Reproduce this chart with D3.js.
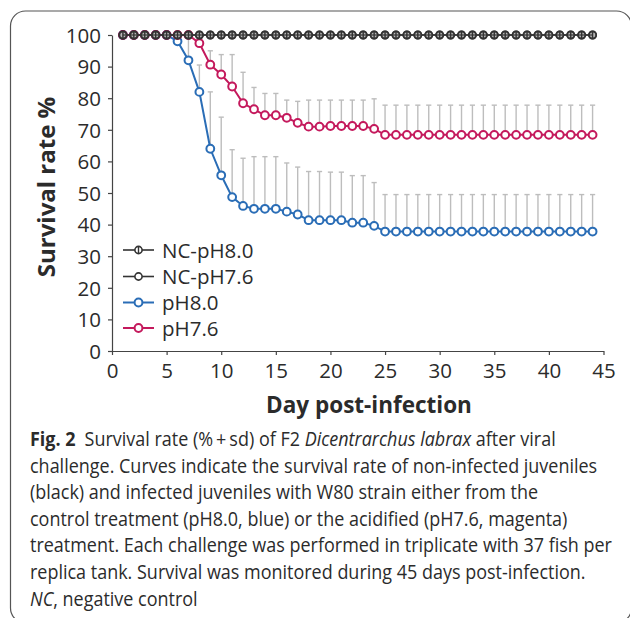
<!DOCTYPE html>
<html>
<head>
<meta charset="utf-8">
<script src="https://cdn.jsdelivr.net/npm/d3@7"></script>
<style>
  html, body { margin: 0; padding: 0; background: #fff; }
  svg { display: block; }
  text { font-family: "Open Sans", "DejaVu Sans", sans-serif; fill: #2b2b2b; }
</style>
</head>
<body>
<svg id="chart" width="630" height="618"></svg>
<script>
// ---------------- DATA ----------------
const days = [1,2,3,4,5,6,7,8,9,10,11,12,13,14,15,16,17,18,19,20,21,22,
              23,24,25,26,27,28,29,30,31,32,33,34,35,36,37,38,39,40,41,42,43,44];

const ncPH80 = [100,100,100,100,100,100,100,100,100,100,100,100,100,100,100,100,100,100,100,100,100,100,
                100,100,100,100,100,100,100,100,100,100,100,100,100,100,100,100,100,100,100,100,100,100];
const ncPH76 = [100,100,100,100,100,100,100,100,100,100,100,100,100,100,100,100,100,100,100,100,100,100,
                100,100,100,100,100,100,100,100,100,100,100,100,100,100,100,100,100,100,100,100,100,100];

const pH80 = [100,100,100,100,100,98,92,82,64,55.6,48.7,45.9,45,45,45,44.1,43.2,41.4,41.4,41.4,41.4,40.6,
              40.6,39.6,37.8,37.8,37.8,37.8,37.8,37.8,37.8,37.8,37.8,37.8,37.8,37.8,37.8,37.8,37.8,37.8,37.8,37.8,37.8,37.8];
// mean + sd (upper end of the error bar)
const pH80Upper = [100,100,100,100,100,100,100,90.5,82,74,63.7,61,61.5,61.5,61.5,59.5,58.2,56.8,56.8,56.6,56.6,55.5,
                   55.5,53.3,49.5,49.5,49.5,49.5,49.5,49.5,49.5,49.5,49.5,49.5,49.5,49.5,49.5,49.5,49.5,49.5,49.5,49.5,49.5,49.5];

const pH76 = [100,100,100,100,100,100,100,97.4,90.6,87.5,83.7,78.4,76.5,74.6,74.6,73.8,72.2,71,71,71.2,71.2,71.2,
              71.2,70.3,68.4,68.4,68.4,68.4,68.4,68.4,68.4,68.4,68.4,68.4,68.4,68.4,68.4,68.4,68.4,68.4,68.4,68.4,68.4,68.4];
const pH76Upper = [100,100,100,100,100,100,100,100,95,93.8,93.8,88.2,83.4,81.5,81.5,79.4,79,79.4,79.4,79.4,79.4,79.4,
                   79.4,79.8,77.8,77.8,77.8,77.8,77.8,77.8,77.8,77.8,77.8,77.8,77.8,77.8,77.8,77.8,77.8,77.8,77.8,77.8,77.8,77.8];

const xTicks = [0,5,10,15,20,25,30,35,40,45];
const yTicks = [0,10,20,30,40,50,60,70,80,90,100];

const seriesNames = ["NC-pH8.0","NC-pH7.6","pH8.0","pH7.6"];

const xTitle = "Day post-infection";
const yTitle = "Survival rate %";

const captionLines = [
  [{t:"Fig. 2", w:"bold"}, {t:"\u2002Survival rate (%\u2009+\u2009sd) of F2 "}, {t:"Dicentrarchus labrax", s:"italic"}, {t:" after viral"}],
  [{t:"challenge. Curves indicate the survival rate of non-infected juveniles"}],
  [{t:"(black) and infected juveniles with W80 strain either from the"}],
  [{t:"control treatment (pH8.0, blue) or the acidified (pH7.6, magenta)"}],
  [{t:"treatment. Each challenge was performed in triplicate with 37 fish per"}],
  [{t:"replica tank. Survival was monitored during 45 days post-infection."}],
  [{t:"NC", s:"italic"}, {t:", negative control"}]
];

// ---------------- LAYOUT ----------------
const svg = d3.select("#chart");
const BLUE = "#2a6db6", MAGENTA = "#c4195c", DARK = "#333", GREY = "#bdbdbd";

// frame
svg.append("rect")
  .attr("x", 10.5).attr("y", 11).attr("width", 621).attr("height", 612)
  .attr("rx", 15).attr("fill", "none").attr("stroke", "#555").attr("stroke-width", 1.2);

const x = d3.scaleLinear().domain([0,45]).range([112, 603.5]);
const y = d3.scaleLinear().domain([0,100]).range([351, 35]);

// axes
const gx = svg.append("g").attr("transform", `translate(0,${y(0)})`)
  .call(d3.axisBottom(x).tickValues(xTicks).tickSize(4).tickPadding(8).tickSizeOuter(0));
const gy = svg.append("g").attr("transform", `translate(${x(0)},0)`)
  .call(d3.axisLeft(y).tickValues(yTicks).tickSize(4).tickPadding(7).tickSizeOuter(0));
[gx, gy].forEach(g => {
  g.select(".domain").attr("stroke", "#444").attr("stroke-width", 1.2);
  g.selectAll(".tick line").attr("stroke", "#444").attr("stroke-width", 1.2);
  g.selectAll(".tick text").attr("font-size", 20.5).attr("fill", "#2b2b2b")
    .style("font-family", '"Open Sans", sans-serif');
});
gy.selectAll(".tick text").attr("dy", "0.36em");

// axis titles
svg.append("text").attr("x", 369).attr("y", 413).attr("text-anchor", "middle")
  .attr("font-size", 22.5).attr("font-weight", "bold").text(xTitle);
svg.append("text").attr("transform", `translate(55,${187}) rotate(-90)`).attr("text-anchor", "middle")
  .attr("font-size", 24).attr("font-weight", "bold").text(yTitle);

// error bars
function errorBars(vals, upper) {
  const g = svg.append("g");
  days.forEach((d, i) => {
    if (upper[i] > vals[i]) {
      g.append("line").attr("x1", x(d)).attr("x2", x(d)).attr("y1", y(vals[i])).attr("y2", y(upper[i]))
        .attr("stroke", GREY).attr("stroke-width", 1.4);
      g.append("line").attr("x1", x(d) - 2.6).attr("x2", x(d) + 2.6).attr("y1", y(upper[i])).attr("y2", y(upper[i]))
        .attr("stroke", GREY).attr("stroke-width", 1.4);
    }
  });
}
errorBars(pH80, pH80Upper);
errorBars(pH76, pH76Upper);

const line = d3.line().x((d, i) => x(days[i])).y(d => y(d));

function drawSeries(vals, color, r) {
  svg.append("path").datum(vals).attr("d", line).attr("fill", "none")
    .attr("stroke", color).attr("stroke-width", 2);
  svg.append("g").selectAll("circle").data(vals).join("circle")
    .attr("cx", (d, i) => x(days[i])).attr("cy", d => y(d)).attr("r", r)
    .attr("fill", "#fff").attr("stroke", color).attr("stroke-width", 2);
}
drawSeries(pH80, BLUE, 3.9);
drawSeries(pH76, MAGENTA, 3.9);

// NC series (black): circles with a line through, and a vertical bar for NC-pH8.0
function drawNC(vals, vertical) {
  svg.append("path").datum(vals).attr("d", line).attr("fill", "none")
    .attr("stroke", DARK).attr("stroke-width", 1.6);
  const g = svg.append("g");
  g.selectAll("circle").data(vals).join("circle")
    .attr("cx", (d, i) => x(days[i])).attr("cy", d => y(d)).attr("r", 3.6)
    .attr("fill", "#999").attr("fill-opacity", 0.45).attr("stroke", DARK).attr("stroke-width", 1.7);
  if (vertical) {
    g.selectAll("line").data(vals).join("line")
      .attr("x1", (d, i) => x(days[i])).attr("x2", (d, i) => x(days[i]))
      .attr("y1", d => y(d) - 3.6).attr("y2", d => y(d) + 3.6)
      .attr("stroke", DARK).attr("stroke-width", 1.4);
  }
}
drawNC(ncPH76, false);
drawNC(ncPH80, true);

// legend
const legendColors = [DARK, DARK, BLUE, MAGENTA];
const legendRows = [250, 276.5, 302.5, 328];
seriesNames.forEach((name, i) => {
  const ly = legendRows[i];
  const c = legendColors[i];
  const dark = i < 2;
  svg.append("line").attr("x1", 123).attr("x2", 154).attr("y1", ly).attr("y2", ly)
    .attr("stroke", c).attr("stroke-width", dark ? 1.6 : 2);
  svg.append("circle").attr("cx", 138.5).attr("cy", ly).attr("r", dark ? 3.6 : 3.9)
    .attr("fill", "#fff").attr("stroke", c).attr("stroke-width", dark ? 1.6 : 2);
  if (i === 0) {
    svg.append("line").attr("x1", 138.5).attr("x2", 138.5).attr("y1", ly - 3.6).attr("y2", ly + 3.6)
      .attr("stroke", c).attr("stroke-width", 1.4);
  }
  svg.append("text").attr("x", 162).attr("y", ly + 7.5).attr("font-size", 20.5).text(name);
});

// caption: one common horizontal compression so the longest line spans like the reference
const capY0 = 446, capStep = 26.6;
const capTexts = captionLines.map(parts => {
  const t = svg.append("text").attr("x", 0).attr("y", 0).attr("font-size", 19.5);
  parts.forEach(p => {
    t.append("tspan").attr("font-weight", p.w || "normal").attr("font-style", p.s || "normal").text(p.t);
  });
  return t;
});
const k = 582 / capTexts[4].node().getComputedTextLength();
capTexts.forEach((t, i) => t.attr("transform", `translate(30,${capY0 + i * capStep}) scale(${k},1)`));
</script>
</body>
</html>
